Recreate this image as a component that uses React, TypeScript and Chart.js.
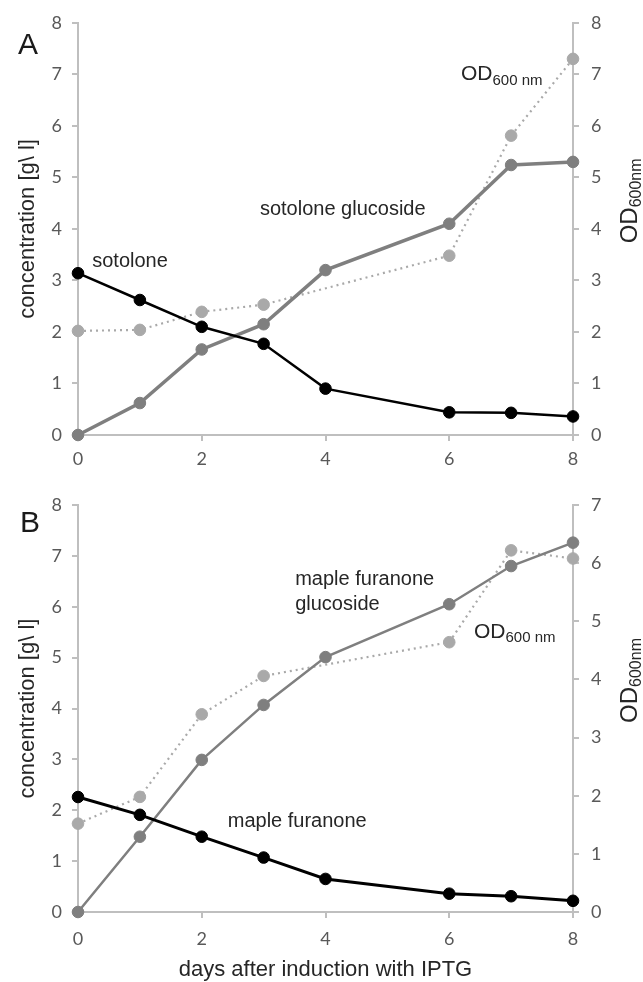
import React, { useEffect, useRef } from "react";
import { Chart, registerables } from "chart.js";

Chart.register(...registerables);

// ---------- data ----------
const days = [0, 1, 2, 3, 4, 6, 7, 8];
const xTickValues = [0, 2, 4, 6, 8];

// Panel A
const sotolone = [3.14, 2.62, 2.1, 1.77, 0.9, 0.44, 0.43, 0.36];
const sotoloneGlucoside = [0, 0.62, 1.66, 2.15, 3.2, 4.1, 5.24, 5.3];
const odA: (number | null)[] = [2.02, 2.04, 2.39, 2.53, null, 3.48, 5.81, 7.3];

// Panel B
const mapleFuranone = [2.26, 1.91, 1.48, 1.07, 0.65, 0.36, 0.31, 0.22];
const mapleFuranoneGlucoside = [0, 1.48, 2.99, 4.07, 5.01, 6.05, 6.8, 7.26];
const odB: (number | null)[] = [1.52, 1.98, 3.4, 4.06, null, 4.64, 6.22, 6.08];

// ---------- styles ----------
const TEXT_FONT = '"Liberation Sans", Arial, sans-serif';
const TICK_FONT = 'Lato, "Open Sans", sans-serif';
const AXIS_COLOR = "#BFBFBF";
const TICK_COLOR = "#595959";
const LABEL_COLOR = "#262626";
const BLACK = "#000000";
const DARK_GRAY = "#7F7F7F";
const LIGHT_GRAY = "#A9A9A9";

type Ann = {
  text: string;
  sub?: string;
  x: number;
  y: number;
  axis: "y" | "y1";
  size: number;
};

function toPoints(values: (number | null)[]) {
  return days.map((d, i) => ({ x: d, y: values[i] }));
}

const annotationPlugin = {
  id: "annotations",
  afterDraw(chart: any, _args: any, opts: any) {
    const { ctx, chartArea } = chart;
    ctx.save();
    ctx.fillStyle = LABEL_COLOR;
    ctx.textBaseline = "middle";
    ctx.textAlign = "left";
    if (opts.letter) {
      ctx.font = `30px ${TEXT_FONT}`;
      ctx.fillStyle = "#1a1a1a";
      ctx.fillText(opts.letter.text, opts.letter.px, opts.letter.py);
      ctx.fillStyle = LABEL_COLOR;
    }
    (opts.items as Ann[]).forEach((a) => {
      const px = chart.scales.x.getPixelForValue(a.x);
      const py = chart.scales[a.axis].getPixelForValue(a.y);
      ctx.font = `${a.size}px ${TEXT_FONT}`;
      ctx.fillText(a.text, px, py);
      if (a.sub) {
        const w = ctx.measureText(a.text).width;
        ctx.font = `${Math.round(a.size * 0.72)}px ${TEXT_FONT}`;
        ctx.fillText(a.sub, px + w, py + a.size * 0.3);
      }
    });
    const main = "OD";
    const sub = "600nm";
    ctx.font = `24px ${TEXT_FONT}`;
    const wMain = ctx.measureText(main).width;
    ctx.font = `16px ${TEXT_FONT}`;
    const wSub = ctx.measureText(sub).width;
    const total = wMain + wSub;
    const cy = (chartArea.top + chartArea.bottom) / 2 + opts.rightTitleShift;
    ctx.translate(opts.rightTitleX, cy);
    ctx.rotate(-Math.PI / 2);
    ctx.font = `24px ${TEXT_FONT}`;
    ctx.fillText(main, -total / 2, 0);
    ctx.font = `16px ${TEXT_FONT}`;
    ctx.fillText(sub, -total / 2 + wMain, 7);
    ctx.restore();
  },
};

function buildConfig(p: {
  black: number[];
  gluc: (number | null)[];
  od: (number | null)[];
  glucWidth: number;
  blackWidth: number;
  rightMax: number;
  padTop: number;
  xHeight: number;
  xTickPad: number;
  showXTitle: boolean;
  letter: { text: string; px: number; py: number };
  items: Ann[];
}) {
  const tickFont = { family: TICK_FONT, size: 18 };
  const axisBase = {
    border: { display: true, color: AXIS_COLOR, width: 2 },
    grid: {
      display: true,
      drawOnChartArea: false,
      drawTicks: true,
      tickLength: 6,
      color: AXIS_COLOR,
      lineWidth: 2,
    },
  };
  const pointStyle = (c: string) => ({
    borderColor: c,
    backgroundColor: c,
    pointBackgroundColor: c,
    pointBorderColor: c,
    pointRadius: 5.8,
    pointBorderWidth: 1,
    clip: false as const,
  });
  return {
    type: "line" as const,
    data: {
      datasets: [
        {
          label: "black",
          data: toPoints(p.black),
          ...pointStyle(BLACK),
          borderWidth: p.blackWidth,
          yAxisID: "y",
          order: 0,
        },
        {
          label: "glucoside",
          data: toPoints(p.gluc),
          ...pointStyle(DARK_GRAY),
          borderWidth: p.glucWidth,
          yAxisID: "y",
          order: 1,
        },
        {
          label: "OD",
          data: toPoints(p.od),
          ...pointStyle(LIGHT_GRAY),
          borderWidth: 2.2,
          borderDash: [2, 4],
          spanGaps: true,
          yAxisID: "y1",
          order: 2,
        },
      ],
    },
    options: {
      responsive: false,
      animation: false as const,
      events: [],
      layout: { padding: { top: p.padTop, left: 0, right: 0, bottom: 0 } },
      plugins: {
        legend: { display: false },
        tooltip: { enabled: false },
        annotations: {
          letter: p.letter,
          items: p.items,
          rightTitleX: 630,
          rightTitleShift: -28,
        },
      },
      scales: {
        x: {
          ...axisBase,
          type: "linear" as const,
          min: 0,
          max: 8,
          afterBuildTicks: (scale: any) => {
            scale.ticks = xTickValues.map((v) => ({ value: v }));
          },
          afterFit: (scale: any) => {
            scale.height = p.xHeight;
          },
          ticks: { font: tickFont, color: TICK_COLOR, padding: p.xTickPad },
          title: {
            display: p.showXTitle,
            text: "days after induction with IPTG",
            font: { family: TEXT_FONT, size: 22, lineHeight: 1 },
            color: LABEL_COLOR,
            padding: { top: 0, bottom: 1 },
          },
        },
        y: {
          ...axisBase,
          position: "left" as const,
          min: 0,
          max: 8,
          afterFit: (scale: any) => {
            scale.width = 78;
          },
          ticks: { stepSize: 1, font: tickFont, color: TICK_COLOR, padding: 10 },
          title: {
            display: true,
            text: "concentration [g\\ l]",
            font: { family: TEXT_FONT, size: 22, lineHeight: 1 },
            color: LABEL_COLOR,
            padding: { top: 17, bottom: 0 },
          },
        },
        y1: {
          ...axisBase,
          position: "right" as const,
          min: 0,
          max: p.rightMax,
          afterFit: (scale: any) => {
            scale.width = 70;
          },
          ticks: { stepSize: 1, font: tickFont, color: TICK_COLOR, padding: 12 },
        },
      },
    },
    plugins: [annotationPlugin],
  };
}

function Panel({ width, height, config }: { width: number; height: number; config: any }) {
  const ref = useRef<HTMLCanvasElement>(null);
  useEffect(() => {
    if (!ref.current) return;
    const chart = new Chart(ref.current, config);
    return () => chart.destroy();
  }, []);
  return (
    <canvas
      ref={ref}
      width={width}
      height={height}
      style={{ display: "block", width: width + "px", height: height + "px" }}
    />
  );
}

export default function App() {
  const configA = buildConfig({
    black: sotolone,
    gluc: sotoloneGlucoside,
    od: odA,
    glucWidth: 3.5,
    blackWidth: 2.5,
    rightMax: 8,
    padTop: 20,
    xHeight: 45,
    xTickPad: 7,
    showXTitle: false,
    letter: { text: "A", px: 18, py: 46 },
    items: [
      { text: "sotolone", x: 0.23, y: 3.36, axis: "y", size: 20 },
      { text: "sotolone glucoside", x: 2.94, y: 4.37, axis: "y", size: 20 },
      { text: "OD", sub: "600 nm", x: 6.19, y: 7.0, axis: "y1", size: 21 },
    ],
  });
  const configB = buildConfig({
    black: mapleFuranone,
    gluc: mapleFuranoneGlucoside,
    od: odB,
    glucWidth: 2.5,
    blackWidth: 3,
    rightMax: 7,
    padTop: 25,
    xHeight: 70,
    xTickPad: 10,
    showXTitle: true,
    letter: { text: "B", px: 20, py: 44 },
    items: [
      { text: "maple furanone", x: 3.51, y: 6.54, axis: "y", size: 20 },
      { text: "glucoside", x: 3.51, y: 6.05, axis: "y", size: 20 },
      { text: "OD", sub: "600 nm", x: 6.4, y: 4.82, axis: "y1", size: 21 },
      { text: "maple furanone", x: 2.42, y: 1.77, axis: "y", size: 20 },
    ],
  });
  return (
    <div style={{ position: "absolute", left: 0, top: 0, width: 643, height: 982, background: "#fff" }}>
      <Panel width={643} height={480} config={configA} />
      <Panel width={643} height={502} config={configB} />
    </div>
  );
}
